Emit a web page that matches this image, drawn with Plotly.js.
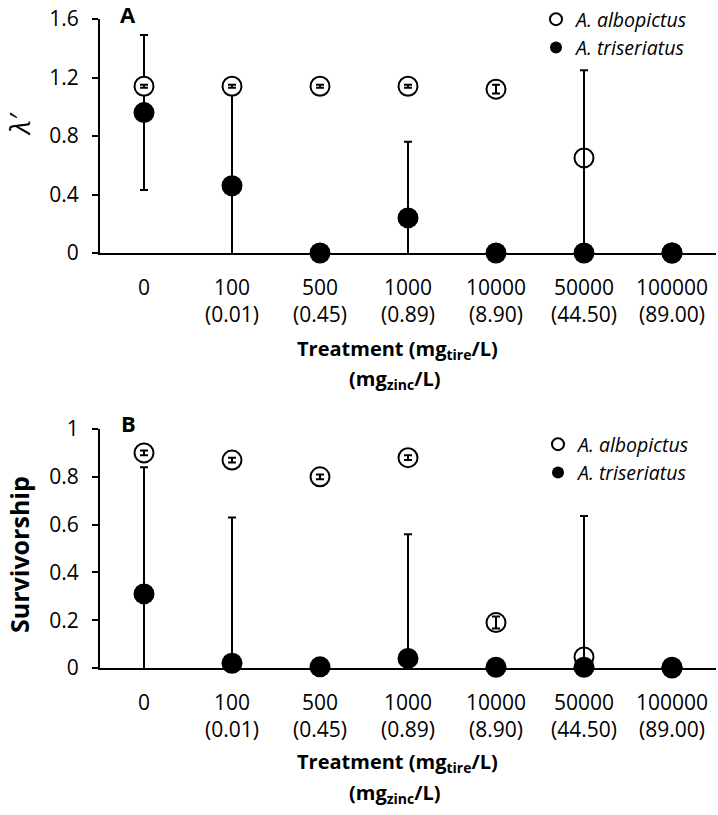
<!DOCTYPE html>
<html>
<head>
<meta charset="utf-8">
<script src="https://cdn.plot.ly/plotly-3.0.1.min.js"></script>
<style>html,body{margin:0;padding:0;background:#fff;}#chart{width:718px;height:815px;}</style>
</head>
<body>
<div id="chart"></div>
<script>
// Categories and tick labels
var categories = [0, 1, 2, 3, 4, 5, 6];
var tireLabels = ['0', '100', '500', '1000', '10000', '50000', '100000'];
var zincLabels = ['', '(0.01)', '(0.45)', '(0.89)', '(8.90)', '(44.50)', '(89.00)'];

// Panel A: lambda'
var lambdaAlbo = [1.14, 1.14, 1.14, 1.14, 1.12, 0.65, 0];
var lambdaAlboErr = [0.01, 0.01, 0.01, 0.01, 0.03, 0.60, 0];
var lambdaTri = [0.96, 0.46, 0, 0.24, 0, 0, 0];
var lambdaTriErr = [0.53, 0.62, 0, 0.52, 0, 0, 0];

// Panel B: survivorship
var survAlbo = [0.90, 0.87, 0.80, 0.88, 0.19, 0.046, 0];
var survAlboErr = [0.01, 0.01, 0.01, 0.01, 0.025, 0.59, 0];
var survTri = [0.31, 0.02, 0.005, 0.04, 0.003, 0.003, 0.003];
var survTriErr = [0.53, 0.61, 0, 0.52, 0, 0, 0];

var FONT = 'Open Sans, sans-serif';

function errTrace(y, err, xa, ya) {
  return {
    x: categories, y: y, xaxis: xa, yaxis: ya, type: 'scatter', mode: 'markers',
    marker: {size: 1, color: 'rgba(0,0,0,0)'}, showlegend: false, hoverinfo: 'skip',
    cliponaxis: true,
    error_y: {type: 'data', array: err, visible: true, color: '#000', thickness: 2, width: 4}
  };
}
function alboTrace(y, xa, ya, leg, show) {
  return {
    x: categories, y: y, xaxis: xa, yaxis: ya, type: 'scatter', mode: 'markers',
    name: '<i>A. albopictus</i>', legend: leg, showlegend: show, cliponaxis: false,
    marker: {size: 19, color: '#fff', symbol: 'circle', line: {color: '#000', width: 2}}
  };
}
function triTrace(y, xa, ya, leg, show) {
  return {
    x: categories, y: y, xaxis: xa, yaxis: ya, type: 'scatter', mode: 'markers',
    name: '<i>A. triseriatus</i>', legend: leg, showlegend: show, cliponaxis: false,
    marker: {size: 21, color: '#000', symbol: 'circle', line: {color: '#000', width: 0}}
  };
}

var data = [
  errTrace(lambdaTri, lambdaTriErr, 'x', 'y'),
  alboTrace(lambdaAlbo, 'x', 'y', 'legend', true),
  errTrace(lambdaAlbo, lambdaAlboErr, 'x', 'y'),
  triTrace(lambdaTri, 'x', 'y', 'legend', true),
  errTrace(survTri, survTriErr, 'x2', 'y2'),
  alboTrace(survAlbo, 'x2', 'y2', 'legend2', true),
  errTrace(survAlbo, survAlboErr, 'x2', 'y2'),
  triTrace(survTri, 'x2', 'y2', 'legend2', true)
];
// overlay axes for second line of tick labels
data.push({x: categories, y: categories.map(function(){return null;}), xaxis: 'x3', yaxis: 'y', type: 'scatter', mode: 'markers', showlegend: false, hoverinfo: 'skip'});
data.push({x: categories, y: categories.map(function(){return null;}), xaxis: 'x4', yaxis: 'y2', type: 'scatter', mode: 'markers', showlegend: false, hoverinfo: 'skip'});

var W = 718, H = 815;
function py(p) { return 1 - p / H; }
var xDom = [100 / W, 716 / W];

function xAxis(labels, standoff, extra) {
  var a = {
    domain: xDom, range: [-0.5, 6.5], tickmode: 'array', tickvals: categories, ticktext: labels,
    showgrid: false, zeroline: false, ticks: '', fixedrange: true,
    tickfont: {family: FONT, size: 21, color: '#000'}, ticklabelstandoff: standoff
  };
  for (var k in extra) a[k] = extra[k];
  return a;
}
function yAxis(dom, range, dtick) {
  return {
    domain: dom, range: range, tickmode: 'linear', tick0: 0, dtick: dtick,
    showgrid: false, zeroline: false, showline: true, linecolor: '#000', linewidth: 2,
    ticks: 'outside', ticklen: 6, tickwidth: 2, tickcolor: '#000',
    tickfont: {family: FONT, size: 21, color: '#000'}, ticklabelstandoff: 9, fixedrange: true
  };
}

function ann(text, x, y, size, angle) {
  return {text: text, x: x / W, y: py(y), xref: 'paper', yref: 'paper', xanchor: 'center', yanchor: 'middle',
          showarrow: false, textangle: angle || 0, font: {family: FONT, size: size, color: '#000'}};
}

var layout = {
  width: W, height: H, autosize: false,
  margin: {l: 0, r: 0, t: 0, b: 0},
  paper_bgcolor: '#fff', plot_bgcolor: 'rgba(0,0,0,0)',
  font: {family: FONT, color: '#000'},
  xaxis: xAxis(tireLabels, 15, {anchor: 'y', showline: true, linecolor: '#000', linewidth: 2}),
  xaxis3: xAxis(zincLabels, 47, {anchor: 'y', overlaying: 'x', showline: false}),
  yaxis: yAxis([py(253), py(19)], [0, 1.6], 0.4),
  xaxis2: xAxis(tireLabels, 15, {anchor: 'y2', showline: true, linecolor: '#000', linewidth: 2}),
  xaxis4: xAxis(zincLabels, 47, {anchor: 'y2', overlaying: 'x2', showline: false}),
  yaxis2: yAxis([py(668), py(429)], [0, 1], 0.2),
  legend: {
    x: 536 / W, xanchor: 'left', y: 1, yanchor: 'top', itemsizing: 'constant',
    bgcolor: 'rgba(0,0,0,0)', font: {family: FONT, size: 19.5, color: '#000'}
  },
  legend2: {
    x: 538 / W, xanchor: 'left', y: py(425), yanchor: 'top', itemsizing: 'constant',
    bgcolor: 'rgba(0,0,0,0)', font: {family: FONT, size: 19.5, color: '#000'}
  },
  annotations: [
    ann('<b>A</b>', 128, 14, 22),
    ann('<b>B</b>', 128, 423, 22),
    ann('<i>λ′</i>', 19, 124, 28, -90),
    ann('<b>Survivorship</b>', 19, 555, 25, -90),
    ann('<b>Treatment (mg<sub>tire</sub>/L)</b>', 397, 349, 20),
    ann('<b>(mg<sub>zinc</sub>/L)</b>', 395, 379, 20),
    ann('<b>Treatment (mg<sub>tire</sub>/L)</b>', 397, 762, 20),
    ann('<b>(mg<sub>zinc</sub>/L)</b>', 395, 793, 20)
  ]
};

Plotly.newPlot('chart', data, layout, {displayModeBar: false, staticPlot: true});
</script>
</body>
</html>
